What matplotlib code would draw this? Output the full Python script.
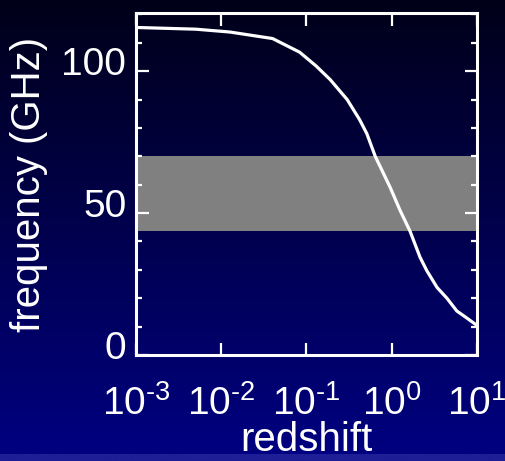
import numpy as np
import matplotlib
matplotlib.use("Agg")
import matplotlib.pyplot as plt
from matplotlib.ticker import LogLocator, MultipleLocator, FixedLocator
from matplotlib.transforms import ScaledTranslation

plt.rcParams['font.family'] = ['Liberation Sans', 'DejaVu Sans']
plt.rcParams['mathtext.fontset'] = 'custom'
plt.rcParams['mathtext.rm'] = 'Liberation Sans'

# CO line frequency vs. redshift
redshift = [0.001, 0.005, 0.0126, 0.04, 0.083, 0.13, 0.19, 0.30, 0.42,
            0.51, 0.64, 0.96, 1.25, 1.64, 2.15, 2.58, 3.4, 4.44, 5.8,
            7.3, 9.6, 10.0]
frequency = [115.4, 114.8, 113.8, 111.5, 106.7, 101.8, 97.0, 90.0, 82.9,
             78.0, 70.0, 59.0, 51.0, 43.6, 34.4, 29.7, 23.8, 20.0, 15.5,
             13.4, 10.8, 10.5]

# observing band (GHz)
band_low = 43.6
band_high = 70.1

xtick_vals = [1e-3, 1e-2, 1e-1, 1e0, 1e1]
xtick_labels = [r'$\mathregular{10^{\text{-}3}}$', r'$\mathregular{10^{\text{-}2}}$',
                r'$\mathregular{10^{\text{-}1}}$', r'$\mathregular{10^{0}}$',
                r'$\mathregular{10^{1}}$']
ytick_vals = [0, 50, 100]

fig = plt.figure(figsize=(5.06, 4.61), dpi=100)

# background gradient: near-black at top to navy at the bottom
bg = fig.add_axes([0, 0, 1, 1], zorder=-10)
h = 461
t = np.linspace(0, 1, h)
r = np.zeros(h)
g = np.zeros(h)
b = (25 + 105 * t) / 255.0
strip = t > 0.985
r[strip] = 30 / 255.0
g[strip] = 30 / 255.0
b[strip] = 150 / 255.0
grad = np.stack([r, g, b], axis=1)[:, None, :]
bg.imshow(grad, aspect='auto', extent=[0, 1, 0, 1], origin='upper')
bg.axis('off')

ax = fig.add_axes([136 / 506, 1 - 355 / 461, (477 - 136) / 506, (355 - 13) / 461])
ax.patch.set_alpha(0)

ax.axhspan(band_low, band_high, color='#808080', lw=0, zorder=1)
ax.plot(redshift, frequency, color='white', lw=2.3, zorder=3,
        solid_joinstyle='round')

ax.set_xscale('log')
ax.set_xlim(1e-3, 1e1)
ax.set_ylim(0, 120.5)

ax.xaxis.set_major_locator(FixedLocator(xtick_vals))
ax.set_xticklabels(xtick_labels)
ax.xaxis.set_minor_locator(LogLocator(base=10, subs=np.arange(2, 10)))
ax.yaxis.set_major_locator(FixedLocator(ytick_vals))
ax.yaxis.set_minor_locator(MultipleLocator(10))

for s in ax.spines.values():
    s.set_color('white')
    s.set_linewidth(2.2)

ax.tick_params(which='both', direction='in', top=True, right=True,
               color='white', labelcolor='white', width=1.6)
ax.tick_params(which='major', length=9, labelsize=28)
ax.tick_params(which='minor', length=4.5)
ax.tick_params(axis='x', which='major', pad=22)
ax.tick_params(axis='y', which='major', pad=7)

# y tick labels sit a little above their ticks
shift = ScaledTranslation(0, 0.10, fig.dpi_scale_trans)
for lbl in ax.get_yticklabels():
    lbl.set_transform(lbl.get_transform() + shift)

ax.set_xlabel('redshift', color='white', fontsize=29, labelpad=-2)
ax.set_ylabel('frequency (GHz)', color='white', fontsize=29, labelpad=10)

fig.savefig('out.png', dpi=100)
